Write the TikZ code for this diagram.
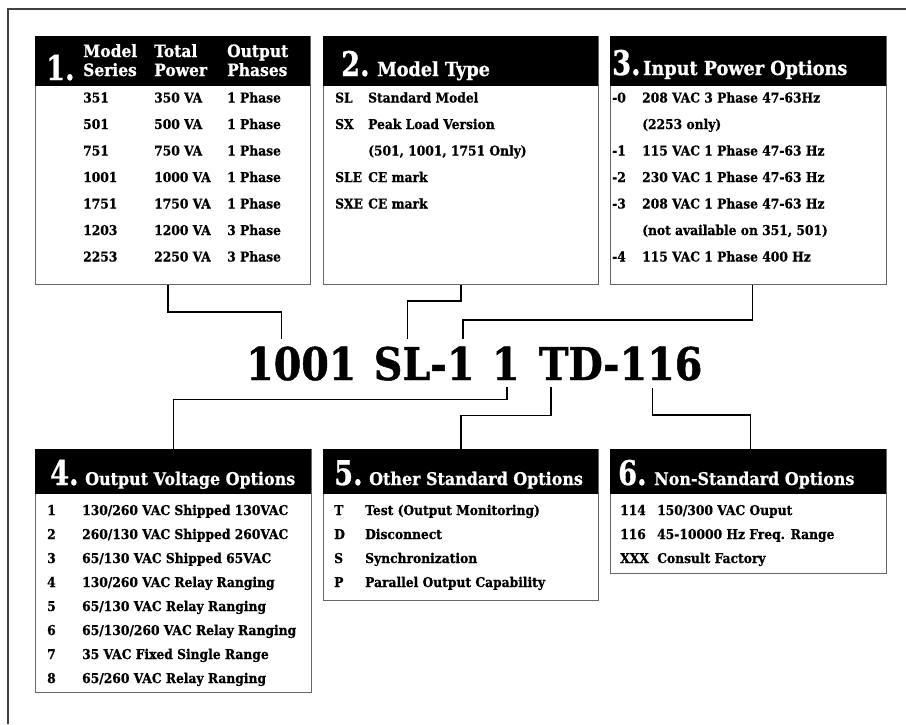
\documentclass[tikz,border=0pt]{standalone}
\usepackage{fontspec}
\setmainfont{DejaVu Serif}[FakeStretch=0.91, BoldFeatures={FakeBold=0.8}]
\newfontfamily\codefont{DejaVu Serif}[FakeStretch=0.88, BoldFeatures={FakeBold=1}]
\newfontfamily\numfont{DejaVu Serif}[FakeStretch=0.8, BoldFeatures={FakeBold=0.8}]
\usetikzlibrary{positioning}

\newcommand{\rowfont}{\fontsize{13.5}{26.5}\selectfont\bfseries}
\newcommand{\lowfont}{\fontsize{13.5}{24}\selectfont\bfseries}

\tikzset{
  panel/.style={draw=black!60, line width=0.9pt, anchor=north west, inner sep=0},
  head/.style={fill=black, anchor=north west, inner sep=0},
  numeral/.style={text=white, font=\numfont\fontsize{34}{34}\selectfont\bfseries, anchor=base west, inner sep=0},
  title/.style={text=white, font=\fontsize{19.4}{19}\selectfont\bfseries, anchor=base west, inner sep=0},
  subtitle/.style={title, font=\fontsize{17.5}{19}\selectfont\bfseries},
  rows/.style={font=\rowfont, anchor=base west, inner sep=0},
  link/.style={line width=1.4pt},
  code/.style={font=\codefont\bfseries\fontsize{45}{45}\selectfont, inner xsep=0, inner ysep=7pt},
}

\begin{document}
\begin{tikzpicture}[x=1pt,y=-1pt]
\useasboundingbox (0,0) rectangle (906,724);

% outer frame
\draw[black!75, line width=1.2pt] (8,724) -- (8,9) -- (906,9);

% top row of panels
\node[panel, minimum width=275pt, minimum height=248pt] (box1) at (35,36) {};
\node[head, minimum width=275pt, minimum height=50pt] (h1) at (box1.north west) {};
\node[numeral] (n1) at (46,80) {1.};
\node[subtitle, font=\fontsize{17}{19}\selectfont\bfseries] (t1) at (83,57) {\begin{tabular}[t]{@{}p{71pt}@{}p{73pt}@{}l@{}}Model & Total & Output\\ Series & Power & Phases\end{tabular}};
\node[rows] (r1) at (83,102.5) {\begin{tabular}[t]{@{}p{71pt}@{}p{73pt}@{}l@{}}
351 & 350 VA & 1 Phase\\
501 & 500 VA & 1 Phase\\
751 & 750 VA & 1 Phase\\
1001 & 1000 VA & 1 Phase\\
1751 & 1750 VA & 1 Phase\\
1203 & 1200 VA & 3 Phase\\
2253 & 2250 VA & 3 Phase
\end{tabular}};

\node[panel, minimum width=275pt, minimum height=248pt] (box2) at (323,36) {};
\node[head, minimum width=275pt, minimum height=50pt] (h2) at (box2.north west) {};
\node[numeral] (n2) at (341,76) {2.};
\node[title] (t2) at (377,76) {Model Type};
\node[rows] (r2) at (335,102.5) {\begin{tabular}[t]{@{}p{33pt}@{}l@{}}
SL & Standard Model\\
SX & Peak Load Version\\
 & (501, 1001, 1751 Only)\\
SLE & CE mark\\
SXE & CE mark
\end{tabular}};

\node[panel, minimum width=276pt, minimum height=248pt] (box3) at (610,36) {};
\node[head, minimum width=276pt, minimum height=50pt] (h3) at (box3.north west) {};
\node[numeral] (n3) at (612,75) {3.};
\node[title] (t3) at (643,75) {Input Power Options};
\node[rows] (r3) at (612,102.5) {\begin{tabular}[t]{@{}p{30pt}@{}l@{}}
-0 & 208 VAC 3 Phase 47-63Hz\\
 & (2253 only)\\
-1 & 115 VAC 1 Phase 47-63 Hz\\
-2 & 230 VAC 1 Phase 47-63 Hz\\
-3 & 208 VAC 1 Phase 47-63 Hz\\
 & (not available on 351, 501)\\
-4 & 115 VAC 1 Phase 400 Hz
\end{tabular}};

% model number
\node[code, anchor=base west] (series) at (246,380) {1001};
\node[code, base right=17pt of series] (type) {SL-};
\node[code, base right=0pt of type] (input) {1};
\node[code, base right=17pt of input] (output) {1};
\node[code, base right=19pt of output] (opts) {TD};
\node[code, base right=0pt of opts] (nonstd) {-116};

% bottom row of panels
\node[panel, minimum width=276pt, minimum height=243pt] (box4) at (35,449) {};
\node[head, minimum width=276pt, minimum height=45pt] (h4) at (box4.north west) {};
\node[numeral] (n4) at (50,485) {4.};
\node[subtitle] (t4) at (85,485) {Output Voltage Options};
\node[rows, font=\lowfont] (r4) at (47,515) {\begin{tabular}[t]{@{}p{35pt}@{}l@{}}
1 & 130/260 VAC Shipped 130VAC\\
2 & 260/130 VAC Shipped 260VAC\\
3 & 65/130 VAC Shipped 65VAC\\
4 & 130/260 VAC Relay Ranging\\
5 & 65/130 VAC Relay Ranging\\
6 & 65/130/260 VAC Relay Ranging\\
7 & 35 VAC Fixed Single Range\\
8 & 65/260 VAC Relay Ranging
\end{tabular}};

\node[panel, minimum width=275pt, minimum height=151pt] (box5) at (323,449) {};
\node[head, minimum width=275pt, minimum height=45pt] (h5) at (box5.north west) {};
\node[numeral] (n5) at (334,485) {5.};
\node[subtitle] (t5) at (369,485) {Other Standard Options};
\node[rows, font=\lowfont] (r5) at (334,515) {\begin{tabular}[t]{@{}p{31pt}@{}l@{}}
T & Test (Output Monitoring)\\
D & Disconnect\\
S & Synchronization\\
P & Parallel Output Capability
\end{tabular}};

\node[panel, minimum width=276pt, minimum height=124pt] (box6) at (610,449) {};
\node[head, minimum width=276pt, minimum height=45pt] (h6) at (box6.north west) {};
\node[numeral] (n6) at (618,485) {6.};
\node[subtitle] (t6) at (654,485) {Non-Standard Options};
\node[rows, font=\lowfont] (r6) at (620,515) {\begin{tabular}[t]{@{}p{37pt}@{}l@{}}
114 & 150/300 VAC Ouput\\
116 & 45-10000 Hz Freq. Range\\
XXX & Consult Factory
\end{tabular}};

% connectors
\coordinate (p1) at ([xshift=-20pt]series.north);
\coordinate (p2) at ([xshift=-3pt]type.north);
\coordinate (p3) at ([xshift=2pt]input.north);
\draw[link] ([xshift=-5pt]box1.south) -- ++(0,27) -| (p1);
\draw[link] (box2.south) -- ++(0,16) -| (p2);
\draw[link] ([xshift=4pt]box3.south) -- ++(0,35) -| (p3);
\draw[link] ([xshift=1pt]output.south) -- ++(0,12) -| (box4.north);
\draw[link] ([xshift=-20pt]opts.south) -- ++(0,28) -| (box5.north);
\draw[link] (nonstd.south) -- ++(0,27) -| ([xshift=2pt]box6.north);

\end{tikzpicture}
\end{document}
